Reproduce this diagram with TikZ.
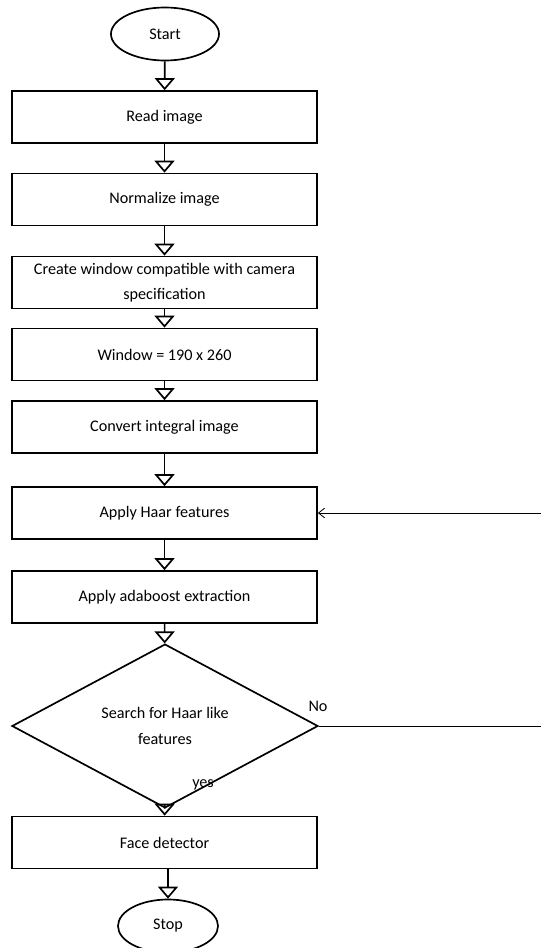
\documentclass[tikz,border=0pt]{standalone}
\usepackage{fontspec}
\setmainfont{Carlito}
\usetikzlibrary{arrows.meta, positioning, shapes.geometric}

\begin{document}
\begin{tikzpicture}[x=0.025cm, y=-0.025cm,
  every node/.style={font=\fontsize{11.5}{18}\selectfont},
  box/.style={draw, line width=1.2pt, minimum width=7.625cm, minimum height=1.3cm, align=center, inner sep=0pt},
  term/.style={draw, ellipse, line width=1.2pt, minimum width=2.7cm, minimum height=1.325cm, inner sep=0pt},
  decision/.style={draw, diamond, line width=1.2pt, minimum width=7.65cm, minimum height=3.55cm, align=center, inner sep=0pt},
  flow/.style={line width=1.2pt, -{Triangle[open, width=0.5cm, length=0.3cm]}},
  back/.style={line width=0.6pt, -{Straight Barb[length=0.15cm, width=0.24cm]}}]
\useasboundingbox (0,0) rectangle (540,948);
% main column
\node[term] (start) at (165,34) {Start};
\node[box] (read) at (164.5,117) {Read image};
\node[box] (norm) at (164.5,199.5) {Normalize image};
\node[box] (create) at (164.5,282.5) {Create window compatible with camera\\specification};
\node[box] (window) at (164.5,354.5) {Window = 190 x 260};
\node[box] (convert) at (164.5,427) {Convert integral image};
\node[box] (haar) at (164.5,513) {Apply Haar features};
\node[box] (ada) at (164.5,597) {Apply adaboost extraction};
\node[decision] (dec) at (165,726) {Search for Haar like\\features};
\node[box] (face) at (164.5,842.5) {Face detector};
\node[term, minimum width=2.5cm] (stop) at (168,926) {Stop};
\node (no) at (318,706) {No};
\node (yes) at (203,785) {yes};
\coordinate (edge) at (546,0);
% arrows
\draw[flow] (start) -- (read);
\draw[flow] (read) -- (norm);
\draw[flow] (norm) -- (create);
\draw[flow] (create) -- (window);
\draw[flow] (window) -- (convert);
\draw[flow] (convert) -- (haar);
\draw[flow] (haar) -- (ada);
\draw[flow] (ada) -- (dec);
\draw[flow] (dec) -- (face);
\draw[flow] (face.south -| stop) -- (stop);
\draw[back] (dec.east) -- (dec.east -| edge) |- (haar.east);
\end{tikzpicture}
\end{document}
